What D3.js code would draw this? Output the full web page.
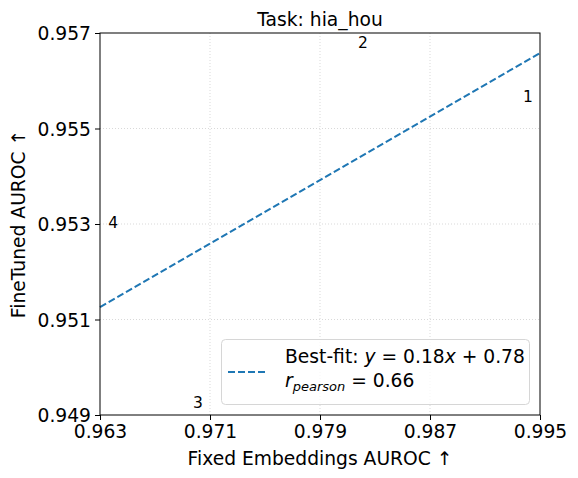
<!DOCTYPE html>
<html>
<head>
<meta charset="utf-8">
<script src="https://cdn.jsdelivr.net/npm/d3@7"></script>
<style>
  body { margin: 0; background: #fff; }
  svg text { font-family: "DejaVu Sans", sans-serif; fill: #000; }
</style>
</head>
<body>
<svg id="chart" width="578" height="478"></svg>
<script>
// Data
const labels = ["1", "2", "3", "4"]
const fixedAuroc = [0.99413, 0.98213, 0.97013, 0.96395]
const tunedAuroc = [0.95567, 0.95680, 0.94925, 0.95302]
const xTicks = [0.963, 0.971, 0.979, 0.987, 0.995]
const yTicks = [0.949, 0.951, 0.953, 0.955, 0.957]
const title = "Task: hia_hou"
const xLabel = "Fixed Embeddings AUROC \u2191"
const yLabel = "FineTuned AUROC \u2191"

let svg = d3.select("#chart")
let margin = {top: 33, right: 38, bottom: 63, left: 100}
let width = svg.attr("width") - margin.left - margin.right
let height = svg.attr("height") - margin.top - margin.bottom
let g = svg.append("g").attr("transform", "translate(" + margin.left + "," + margin.top + ")")

let x = d3.scaleLinear().domain([0.963, 0.995]).range([0, width])
let y = d3.scaleLinear().domain([0.949, 0.957]).range([height, 0])

// least squares fit of the points
let mx = d3.mean(fixedAuroc), my = d3.mean(tunedAuroc)
let sxy = d3.sum(fixedAuroc, (d, i) => (d - mx) * (tunedAuroc[i] - my))
let sxx = d3.sum(fixedAuroc, d => (d - mx) * (d - mx))
let slope = sxy / sxx
let intercept = my - slope * mx

// grid
g.append("g").selectAll("line")
  .data(xTicks.slice(1, -1))
  .enter().append("line")
    .attr("x1", d => x(d)).attr("x2", d => x(d))
    .attr("y1", 0).attr("y2", height)
    .attr("stroke", "#cfcfcf").attr("stroke-width", 0.8)
    .attr("stroke-dasharray", "1,2")
g.append("g").selectAll("line")
  .data(yTicks.slice(1, -1))
  .enter().append("line")
    .attr("y1", d => y(d)).attr("y2", d => y(d))
    .attr("x1", 0).attr("x2", width)
    .attr("stroke", "#cfcfcf").attr("stroke-width", 0.8)
    .attr("stroke-dasharray", "1,2")

// best fit line
let line = d3.line().x(d => x(d)).y(d => y(slope * d + intercept))
g.append("path")
  .attr("d", line(x.domain()))
  .attr("fill", "none")
  .attr("stroke", "#1f77b4")
  .attr("stroke-width", 2)
  .attr("stroke-dasharray", "7,3")

// numbered points
g.selectAll(".pt")
  .data(labels)
  .enter().append("text")
    .attr("class", "pt")
    .attr("x", (d, i) => x(fixedAuroc[i]))
    .attr("y", (d, i) => y(tunedAuroc[i]))
    .attr("text-anchor", "middle")
    .attr("dominant-baseline", "central")
    .style("font-size", "15.5px")
    .text(d => d)

// axes
let xAxis = g.append("g")
  .attr("transform", "translate(0," + height + ")")
  .call(d3.axisBottom(x).tickValues(xTicks).tickFormat(d3.format(".3f")).tickSize(5).tickPadding(4))
let yAxis = g.append("g")
  .call(d3.axisLeft(y).tickValues(yTicks).tickFormat(d3.format(".3f")).tickSize(5).tickPadding(4))
;[xAxis, yAxis].forEach(a => {
  a.select(".domain").remove()
  a.selectAll("text").style("font-size", "18.7px").attr("fill", "#000")
  a.selectAll("line").attr("stroke", "#000")
})
yAxis.selectAll("text").attr("dy", "0.36em")
xAxis.selectAll("text").attr("dy", "0.76em")

// frame
g.append("rect")
  .attr("width", width).attr("height", height)
  .attr("fill", "none").attr("stroke", "#000").attr("stroke-width", 1)

// title & labels
svg.append("text")
  .attr("x", margin.left + width / 2).attr("y", 26)
  .attr("text-anchor", "middle").style("font-size", "18.7px")
  .text(title)
svg.append("text")
  .attr("x", margin.left + width / 2).attr("y", 465)
  .attr("text-anchor", "middle").style("font-size", "18.7px")
  .text(xLabel)
svg.append("text")
  .attr("transform", "translate(25," + (margin.top + height / 2) + ") rotate(-90)")
  .attr("text-anchor", "middle").style("font-size", "18.7px")
  .text(yLabel)

// legend
let leg = svg.append("g")
leg.append("rect")
  .attr("x", 221.5).attr("y", 339.5).attr("width", 308).attr("height", 65)
  .attr("rx", 4).attr("fill", "#fff").attr("fill-opacity", 0.8)
  .attr("stroke", "#d6d6d6").attr("stroke-width", 1)
leg.append("line")
  .attr("x1", 228).attr("x2", 267).attr("y1", 372).attr("y2", 372)
  .attr("stroke", "#1f77b4").attr("stroke-width", 2).attr("stroke-dasharray", "7,3")
let t1 = leg.append("text").attr("x", 285).attr("y", 362.5).style("font-size", "18.7px")
t1.append("tspan").text("Best-fit: ")
t1.append("tspan").style("font-style", "italic").text("y")
t1.append("tspan").text(" = 0.18")
t1.append("tspan").style("font-style", "italic").text("x")
t1.append("tspan").text(" + 0.78")
let t2 = leg.append("text").attr("x", 285).attr("y", 386.5).style("font-size", "18.7px")
t2.append("tspan").style("font-style", "italic").text("r")
t2.append("tspan").style("font-style", "italic").style("font-size", "13px").attr("dy", 4).text("pearson")
t2.append("tspan").attr("dy", -4).text(" = 0.66")
</script>
</body>
</html>
